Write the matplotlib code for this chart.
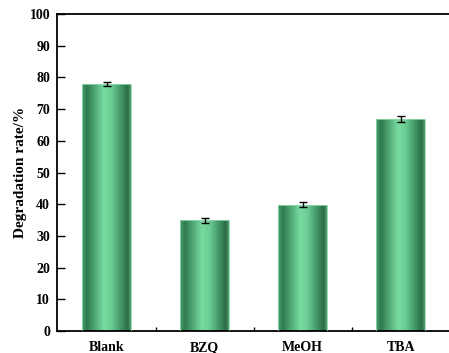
import numpy as np
import matplotlib
matplotlib.use("Agg")
import matplotlib.pyplot as plt
from matplotlib.colors import LinearSegmentedColormap
from matplotlib.patches import Rectangle

categories = ["Blank", "BZQ", "MeOH", "TBA"]
degradation = [78.0, 35.0, 39.8, 66.9]
errors = [0.7, 0.8, 0.8, 0.9]
y_ticks = [0, 10, 20, 30, 40, 50, 60, 70, 80, 90, 100]

plt.rcParams["font.family"] = ["Liberation Serif", "DejaVu Serif"]
plt.rcParams["font.weight"] = "bold"

fig = plt.figure(figsize=(4.49, 3.53), dpi=100)
ax = fig.add_axes([0.127, 0.0623, 0.872, 0.8977])

# cylinder-like shading across each bar
shade = LinearSegmentedColormap.from_list(
    "cyl",
    [(0.00, "#4a9c6b"), (0.10, "#2f7a4f"), (0.45, "#78dba0"),
     (0.60, "#6cce94"), (0.86, "#36845a"), (0.94, "#2b6a45"), (1.00, "#55a777")],
)
grad = np.linspace(0, 1, 256).reshape(1, -1)

x = np.arange(len(categories))
width = 0.5
bars = ax.bar(x, degradation, width=width, color="none", edgecolor="none", zorder=2)
for rect in bars:
    x0, w, h = rect.get_x(), rect.get_width(), rect.get_height()
    im = ax.imshow(grad, cmap=shade, aspect="auto",
                   extent=[x0, x0 + w, 0, h], zorder=2, interpolation="bicubic")
    clip = Rectangle((x0, 0), w, h, transform=ax.transData)
    im.set_clip_path(clip)
    ax.add_patch(Rectangle((x0, 0), w, h, fill=False, edgecolor="#8fd8ac",
                           linewidth=0.6, zorder=3))

ax.errorbar(x, degradation, yerr=errors, fmt="none", ecolor="black",
            elinewidth=1.0, capsize=3, capthick=1.0, zorder=4)

ax.set_xlim(-0.51, 3.49)
ax.set_ylim(0, 100)
ax.set_yticks(y_ticks)
ax.set_xticks(x)
ax.set_xticklabels(categories)
ax.set_xticks([0.5, 1.5, 2.5], minor=True)

ax.tick_params(axis="y", direction="in", length=6, width=1.0, labelsize=10, pad=5)
ax.tick_params(axis="x", which="major", direction="in", length=5, width=1.0,
               labelsize=10, pad=7)
ax.tick_params(axis="x", which="minor", direction="in", length=3, width=1.0)
for lbl in ax.get_xticklabels() + ax.get_yticklabels():
    lbl.set_fontweight("bold")

for side in ["left", "bottom", "top"]:
    ax.spines[side].set_linewidth(1.3)
ax.spines["right"].set_visible(False)

ax.set_ylabel("Degradation rate/%", fontsize=11, fontweight="bold", labelpad=1.5)

fig.savefig("out.png", dpi=100)
